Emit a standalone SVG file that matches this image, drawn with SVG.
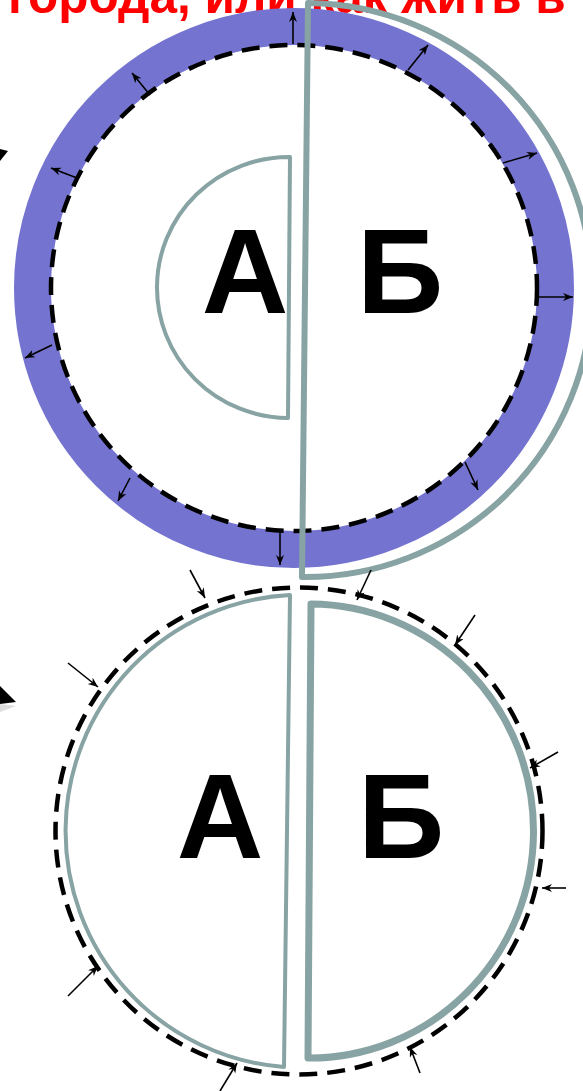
<svg xmlns="http://www.w3.org/2000/svg" width="583" height="1091" viewBox="0 0 583 1091">
<style>
.title{font-family:"Liberation Sans",Arial,sans-serif;font-weight:bold;font-size:49.5px;fill:#FF0000}
.big{font-family:"Liberation Sans",Arial,sans-serif;font-weight:bold;font-size:120px;fill:#000;text-anchor:middle}
.dash{fill:none;stroke:#000;stroke-width:4.5;stroke-dasharray:18 10}
.grey{fill:none;stroke:#88A3A3;stroke-linejoin:round}
.arr{stroke:#000;stroke-width:1.6;fill:none;marker-end:url(#ah)}
</style>
<defs>
<marker id="ah" markerUnits="userSpaceOnUse" markerWidth="12" markerHeight="10" refX="10" refY="4" orient="auto">
<path d="M0,0 L10,4 L0,8 L3,4 Z" fill="#000"/>
</marker>
</defs>
<rect width="583" height="1091" fill="#fff"/>
<text class="title" x="8" y="13">города, или как жить в</text>
<polygon points="0,149 8,151 0,161" fill="#000"/>
<polygon points="0,704 16,706 0,712" fill="#bbb" opacity="0.5"/>
<polygon points="0,686 16,702 0,704" fill="#000"/>

<g id="top-circle">
<circle cx="294" cy="288" r="261.5" fill="#fff" stroke="#7474D0" stroke-width="37"/>
<circle class="dash" cx="294" cy="288" r="243"/>
</g>
<g id="node-A-top">
<path class="grey" stroke-width="4" fill="#fff" d="M290 157 L288 418 A132 130.5 0 0 1 290 157 Z"/>
<text class="big" x="245" y="313">А</text>
</g>
<g id="node-B-top">
<path class="grey" stroke-width="6" d="M302 577 L308 3 A287 287 0 0 1 302 577 Z"/>
<text class="big" x="400" y="313">Б</text>
</g>

<g id="bottom-circle">
<circle class="dash" cx="299" cy="831" r="243.5"/>
</g>
<g id="node-A-bottom">
<path class="grey" stroke-width="4" d="M290 595 L284 1067 A236.5 236.5 0 0 1 290 595 Z"/>
<text class="big" x="220" y="858">А</text>
</g>
<g id="node-B-bottom">
<path class="grey" stroke-width="7" d="M311 604 L308 1058 A224 227 0 0 0 311 604 Z"/>
<text class="big" x="401" y="858">Б</text>
</g>

<g id="connectors">
<line class="arr" x1="293" y1="44" x2="293" y2="12"/>
<line class="arr" x1="408" y1="70" x2="428" y2="45"/>
<line class="arr" x1="150" y1="95" x2="132" y2="73"/>
<line class="arr" x1="77" y1="178" x2="51" y2="168"/>
<line class="arr" x1="503" y1="163" x2="537" y2="153"/>
<line class="arr" x1="537" y1="297" x2="573" y2="297"/>
<line class="arr" x1="52" y1="345" x2="25" y2="358"/>
<line class="arr" x1="130" y1="478" x2="118" y2="501"/>
<line class="arr" x1="465" y1="462" x2="478" y2="490"/>
<line class="arr" x1="280" y1="530" x2="280" y2="565"/>

<line class="arr" x1="190" y1="570" x2="205" y2="598"/>
<line class="arr" x1="371" y1="570" x2="357" y2="600"/>
<line class="arr" x1="475" y1="615" x2="455" y2="645"/>
<line class="arr" x1="68" y1="663" x2="98" y2="687"/>
<line class="arr" x1="558" y1="752" x2="530" y2="768"/>
<line class="arr" x1="566" y1="888" x2="542" y2="888"/>
<line class="arr" x1="68" y1="996" x2="98" y2="966"/>
<line class="arr" x1="220" y1="1091" x2="237" y2="1063"/>
<line class="arr" x1="420" y1="1073" x2="410" y2="1047"/>
</g>
</svg>
